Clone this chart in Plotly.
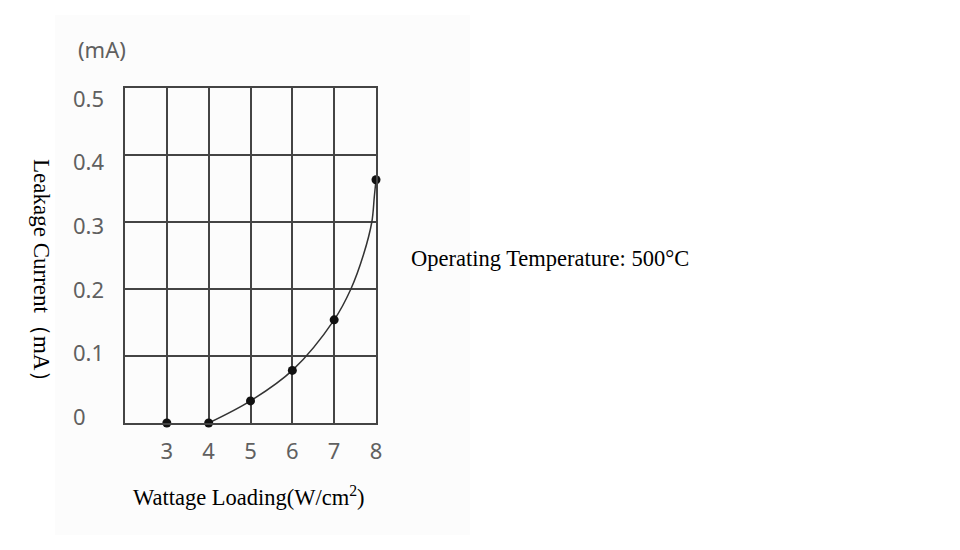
import plotly.graph_objects as go

# Measured points (W/cm^2 vs mA)
wattage = [3, 4, 5, 6, 7, 8]
leakage = [0.0, 0.0, 0.033, 0.0785, 0.154, 0.363]

# Points
curve_x = [4, 5, 6, 7, 7.40, 7.70, 7.90, 7.96, 8]
curve_y = [0.0, 0.033, 0.0785, 0.154, 0.2, 0.251, 0.3, 0.338, 0.363]

x_ticks = [3, 4, 5, 6, 7, 8]
y_ticks = [0, 0.1, 0.2, 0.3, 0.4, 0.5]
y_tick_text = ["0", "0.1", "0.2", "0.3", "0.4", "0.5"]

grid_col = "#444444"
tick_font = dict(family="Noto Sans", size=22, color="#606060")
serif = "Liberation Serif, Times New Roman, serif"

fig = go.Figure()
fig.add_trace(go.Scatter(
    x=curve_x, y=curve_y, mode="lines",
    line=dict(color="#333333", width=1.5, shape="spline", smoothing=1.0),
    hoverinfo="skip", showlegend=False))
fig.add_trace(go.Scatter(
    x=wattage, y=leakage, mode="markers",
    marker=dict(color="#111111", size=9),
    showlegend=False, cliponaxis=False))

annotations = [
    dict(text="(mA)", xref="paper", yref="paper", x=-49/251, y=(423-49)/335,
         xanchor="left", yanchor="middle", showarrow=False, font=tick_font),
    dict(text="Leakage Current（mA）", xref="paper", yref="paper",
         x=-83/251, y=(423-276)/335, textangle=90, showarrow=False,
         xanchor="center", yanchor="middle",
         font=dict(family=serif, size=23, color="black")),
    dict(text="Wattage Loading(W/cm<sup>2</sup>)", xref="paper", yref="paper",
         x=(249-125)/251, y=-(496-423)/335, showarrow=False,
         xanchor="center", yanchor="middle",
         font=dict(family=serif, size=22.5, color="black")),
    dict(text="Operating Temperature: 500°C", xref="paper", yref="paper",
         x=(409-125)/251, y=(423-258)/335, showarrow=False,
         xanchor="left", yanchor="middle",
         font=dict(family=serif, size=22.5, color="black")),
]
# y tick labels: left-aligned, as in the reference
for v, t in zip(y_ticks, y_tick_text):
    annotations.append(dict(text=t, xref="paper", yref="y", x=-54/251, y=v,
                            yshift=7 - 33 * v, xanchor="left", yanchor="middle",
                            showarrow=False, font=tick_font))

fig.update_layout(
    width=960, height=550,
    margin=dict(l=125, r=584, t=88, b=127),
    paper_bgcolor="white", plot_bgcolor="rgba(0,0,0,0)",
    shapes=[dict(type="rect", xref="paper", yref="paper", layer="below",
                 x0=-70/251, x1=(470-125)/251, y0=-(535-423)/335, y1=(423-15)/335,
                 fillcolor="#fcfcfc", line=dict(width=0))],
    xaxis=dict(range=[2, 8], tickvals=x_ticks, showgrid=True, gridcolor=grid_col,
               gridwidth=1.5, showline=True, mirror=True, linecolor=grid_col,
               linewidth=1.5, zeroline=False, ticks="", tickfont=tick_font,
               ticklabelstandoff=8, fixedrange=True),
    yaxis=dict(range=[0, 0.5], tickvals=y_ticks, showticklabels=False, showgrid=True,
               gridcolor=grid_col, gridwidth=1.5, showline=True, mirror=True,
               linecolor=grid_col, linewidth=1.5, zeroline=False, ticks="",
               fixedrange=True),
    annotations=annotations,
)

fig.write_html("out.html")
